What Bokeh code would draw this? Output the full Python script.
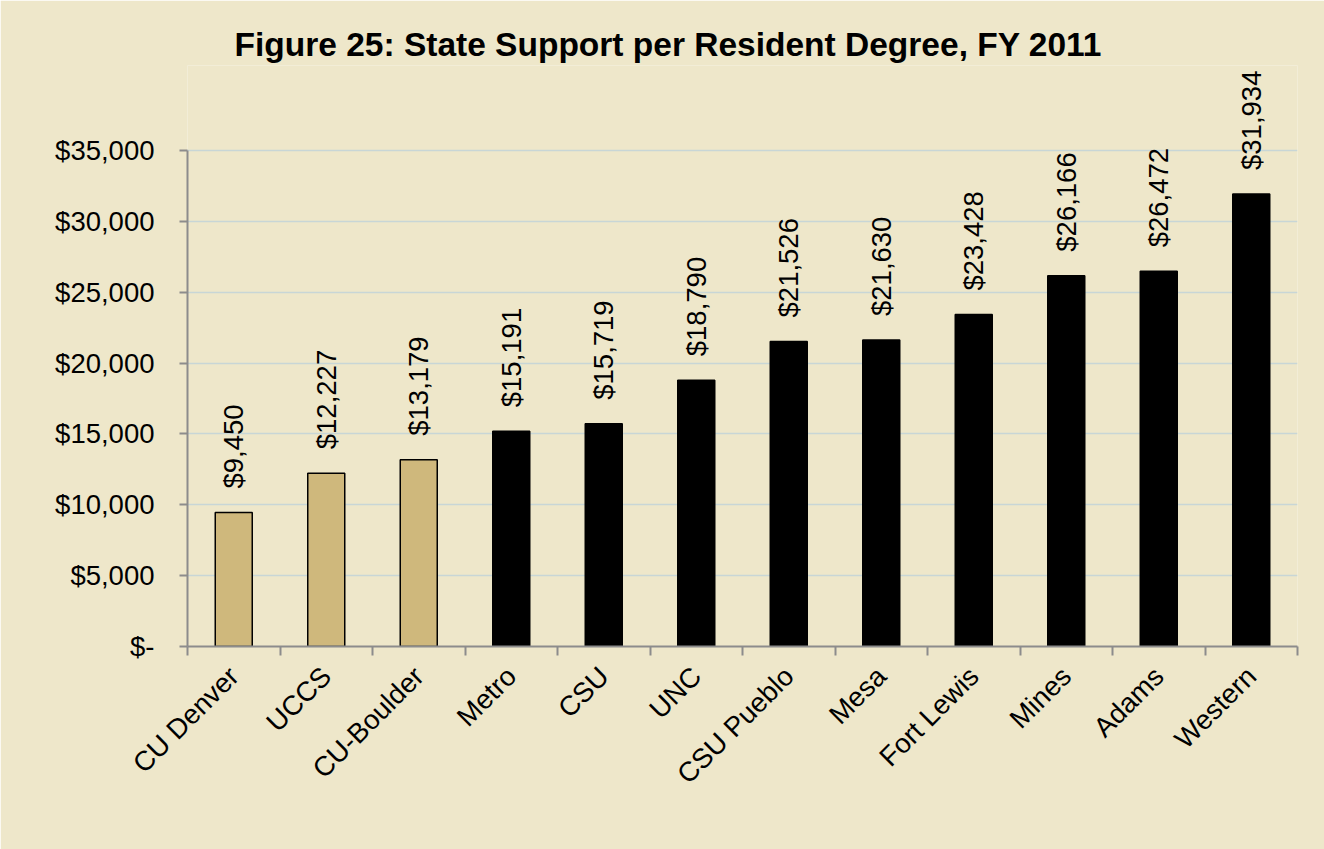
import math
from bokeh.plotting import figure
from bokeh.models import ColumnDataSource, FixedTicker, NumeralTickFormatter, Range1d, LabelSet
from bokeh.core.properties import value
from bokeh.embed import file_html
from bokeh.resources import INLINE

# ---- data ----
institutions = ["CU Denver", "UCCS", "CU-Boulder", "Metro", "CSU", "UNC",
                "CSU Pueblo", "Mesa", "Fort Lewis", "Mines", "Adams", "Western"]
support = [9450, 12227, 13179, 15191, 15719, 18790,
           21526, 21630, 23428, 26166, 26472, 31934]
group = ["CU", "CU", "CU", "Other", "Other", "Other",
         "Other", "Other", "Other", "Other", "Other", "Other"]
y_ticks = [0, 5000, 10000, 15000, 20000, 25000, 30000, 35000]
title_text = "Figure 25:  State Support per Resident Degree, FY 2011"

# ---- style ----
BG = "#EEE7CA"
GROUP_COLORS = {"CU": "#CFB87C", "Other": "#000000"}
AXIS_COLOR = "#8C8C8C"
GRID_COLOR = "#C8D6D6"
FONT = "Liberation Sans"
LABEL_SIZE = "27.5px"
Y_VIEW_END = 41000  # headroom above the axis so the rotated value labels fit

n = len(institutions)
xpos = [i + 0.5 for i in range(n)]
src = ColumnDataSource(dict(
    x=xpos,
    top=support,
    label=[f"${v:,}" for v in support],
    color=[GROUP_COLORS[g] for g in group],
))

p = figure(width=1324, height=849,
           x_range=Range1d(0, n), y_range=Range1d(0, Y_VIEW_END),
           output_backend="svg", toolbar_location=None,
           min_border_left=187, min_border_right=27,
           min_border_top=65, min_border_bottom=203)

p.background_fill_color = BG
p.border_fill_color = BG
p.outline_line_color = None

p.title.text = title_text
p.title.text_font = FONT
p.title.text_font_size = "33.5px"
p.title.text_font_style = "bold"
p.title.text_color = "black"
p.title.align = "left"
p.title.offset = 47
p.title.standoff = 5

p.vbar(x="x", top="top", bottom=0, width=0.4, source=src,
       fill_color="color", line_color="black", line_width=1.5)

labels = LabelSet(x="x", y="top", text="label", source=src,
                  angle=math.pi / 2, text_align="left", text_baseline="middle",
                  y_offset=24, text_font=value(FONT), text_font_size=value(LABEL_SIZE),
                  text_color="black")
p.add_layout(labels)

# grid
p.xgrid.grid_line_color = None
p.ygrid.grid_line_color = GRID_COLOR
p.ygrid.grid_line_width = 1.5
p.ygrid.ticker = FixedTicker(ticks=y_ticks)

# x axis
xa = p.xaxis[0]
xa.ticker = FixedTicker(ticks=xpos, minor_ticks=list(range(n + 1)))
xa.major_label_overrides = {xv: name for xv, name in zip(xpos, institutions)}
xa.major_tick_line_color = None
xa.major_tick_in = 0
xa.major_tick_out = 0
xa.minor_tick_in = 0
xa.minor_tick_out = 9
xa.minor_tick_line_color = AXIS_COLOR
xa.minor_tick_line_width = 2
xa.axis_line_color = AXIS_COLOR
xa.axis_line_width = 2
xa.major_label_orientation = math.pi / 4
xa.major_label_text_font = FONT
xa.major_label_text_font_size = LABEL_SIZE
xa.major_label_text_color = "black"
xa.major_label_standoff = 16

# y axis
ya = p.yaxis[0]
ya.ticker = FixedTicker(ticks=y_ticks)
ya.bounds = (y_ticks[0], y_ticks[-1])
ya.formatter = NumeralTickFormatter(format="$0,0")
ya.major_label_overrides = {0: "$-"}
ya.major_tick_in = 0
ya.major_tick_out = 8
ya.major_tick_line_color = AXIS_COLOR
ya.major_tick_line_width = 2
ya.minor_tick_line_color = None
ya.axis_line_color = AXIS_COLOR
ya.axis_line_width = 2
ya.major_label_text_font = FONT
ya.major_label_text_font_size = LABEL_SIZE
ya.major_label_text_color = "black"
ya.major_label_standoff = 25

open("out.html", "w").write(file_html(p, INLINE))
